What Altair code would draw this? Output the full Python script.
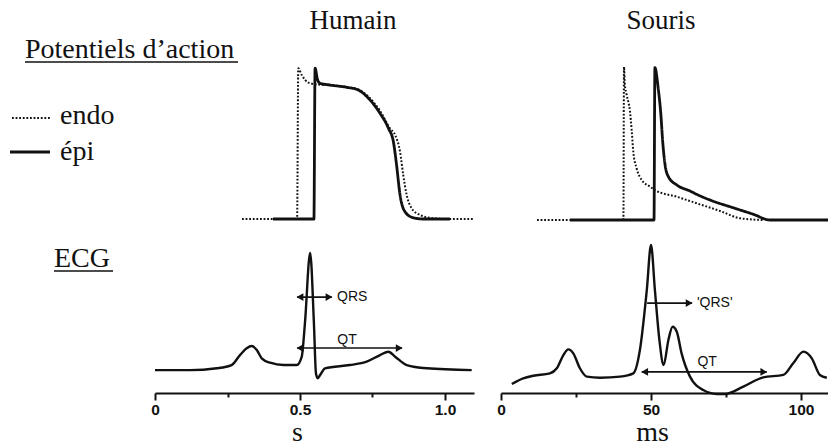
import altair as alt
import pandas as pd

# --- Potentiels d'action, humain (temps en s, potentiel en mV) ---
h_endo_t = [0.30, 0.490, 0.494, 0.506, 0.529, 0.560, 0.603, 0.661, 0.701, 0.736,
            0.776, 0.810, 0.828, 0.845, 0.856, 0.868, 0.885, 0.914, 0.948, 1.006, 1.097]
h_endo_v = [-85, -85, 39, 33.4, 27.1, 25.6, 25.0, 23.5, 21.5, 15.5,
            4.0, -10.4, -15.9, -29.7, -48.8, -65.3, -76.2, -81.7, -84, -85, -85]
h_epi_t = [0.407, 0.548, 0.552, 0.560, 0.569, 0.603, 0.661, 0.701, 0.736, 0.776,
           0.805, 0.822, 0.833, 0.845, 0.862, 0.891, 0.925, 1.017]
h_epi_v = [-85, -85, 39, 30, 26.6, 25.2, 23.3, 21.1, 14.3, 1.9,
           -10.4, -21.4, -40.6, -65.3, -79, -84, -85, -85]

# --- Potentiels d'action, souris (temps en ms, potentiel en mV) ---
m_endo_t = [12, 40.8, 41.0, 41.3, 41.9, 43.0, 43.6, 44.1, 45.2, 46.9, 49.7,
            51.3, 58.6, 66.3, 73.0, 79.7, 87.4]
m_endo_v = [-85, -85, 40.2, 25.3, 17.1, 3.5, -12.9, -29.2, -42.8, -52.3, -57.8,
            -60.5, -66, -72.2, -77.6, -83.6, -85]
m_epi_t = [23, 51.0, 51.3, 52.4, 53.3, 53.9, 54.7, 55.8, 58.6, 63.0, 65.2,
           69.7, 77.4, 84.1, 89.7, 109]
m_epi_v = [-85, -85, 39.4, 22.6, 0.8, -21, -40.1, -49.6, -56.4, -61.3, -64,
           -68.7, -75, -80.3, -85, -85]

# --- ECG humain (s, amplitude relative à l'onde R) ---
h_ecg_t = [0.0, 0.121, 0.213, 0.264, 0.293, 0.316, 0.333, 0.351, 0.368, 0.397,
           0.443, 0.489, 0.506, 0.517, 0.535, 0.548, 0.555, 0.561, 0.570, 0.586,
           0.672, 0.730, 0.776, 0.805, 0.828, 0.868, 0.937, 1.092]
h_ecg_v = [-0.01, -0.01, 0.006, 0.034, 0.12, 0.178, 0.198, 0.164, 0.092, 0.054,
           0.034, 0.034, 0.106, 0.394, 1.0, 0.394, -0.037, -0.08, -0.05, 0.006,
           0.034, 0.063, 0.12, 0.149, 0.106, 0.034, 0.006, -0.01]

# --- ECG souris (ms, amplitude relative à l'onde R) ---
m_ecg_t = [3.6, 7.4, 10.8, 16.3, 18.6, 20.8, 22.4, 24.1, 26.3, 28.6, 33.0, 39.7,
           44.1, 46.3, 48.6, 50.0, 51.3, 52.8, 54.2, 55.8, 57.2, 58.6, 60.2, 63.0,
           67.4, 71.9, 74.7, 80.8, 87.4, 94.1, 97.4, 100.8, 103.6, 106.3, 108.6]
m_ecg_v = [-0.061, -0.018, 0.002, 0.02, 0.059, 0.16, 0.203, 0.173, 0.059, -0.005,
           -0.013, -0.005, 0.02, 0.198, 0.656, 1.0, 0.656, 0.275, 0.084, 0.275,
           0.376, 0.338, 0.173, -0.005, -0.107, -0.137, -0.137, -0.081, -0.01,
           0.008, 0.097, 0.186, 0.135, 0.008, -0.013]

# --- Annotations QRS / QT ---
h_arrow_name = ["QRS", "QT"]
h_arrow_x0 = [0.49, 0.49]
h_arrow_x1 = [0.61, 0.852]
h_arrow_y = [0.62, 0.181]
h_head_x = [0.50, 0.60, 0.50, 0.842]
h_head_y = [0.62, 0.62, 0.181, 0.181]
h_head_dir = ["g", "d", "g", "d"]
h_label_text = ["QRS", "QT"]
h_label_x = [0.628, 0.662]
h_label_y = [0.62, 0.25]
h_label_align = ["left", "center"]

m_arrow_name = ["'QRS'", "QT"]
m_arrow_x0 = [48.7, 46.9]
m_arrow_x1 = [63.7, 88.6]
m_arrow_y = [0.557, 0.031]
m_head_x = [62.7, 47.9, 87.6]
m_head_y = [0.557, 0.031, 0.031]
m_head_dir = ["d", "g", "d"]
m_label_text = ["'QRS'", "QT"]
m_label_x = [65.3, 68.7]
m_label_y = [0.557, 0.107]
m_label_align = ["left", "center"]

# Légende des couches (endocarde pointillé, épicarde trait plein)
couches = ["endo", "épi"]
couche_dash = [[1.8, 1.8], [1, 0]]
couche_width = [2.0, 2.8]

INK = "#111111"
SERIF = "Liberation Serif"
SANS = "Liberation Sans"

# Each trace gets its own scale; the ranges place the four panels on the page.
def sx_h():
    return alt.Scale(domain=[0, 1.1], range=[155, 474], nice=False, zero=False)

def sx_m():
    return alt.Scale(domain=[0, 109], range=[501, 828], nice=False, zero=False)

def sy(domain, rng):
    return alt.Scale(domain=domain, range=rng, nice=False, zero=False)

def ap_frame(t_endo, v_endo, t_epi, v_epi):
    rows = [{"t": t, "v": v, "couche": "endo"} for t, v in zip(t_endo, v_endo)]
    rows += [{"t": t, "v": v, "couche": "épi"} for t, v in zip(t_epi, v_epi)]
    return pd.DataFrame(rows)

h_ap_df = ap_frame(h_endo_t, h_endo_v, h_epi_t, h_epi_v)
m_ap_df = ap_frame(m_endo_t, m_endo_v, m_epi_t, m_epi_v)
h_ecg_df = pd.DataFrame({"t": h_ecg_t, "v": h_ecg_v})
m_ecg_df = pd.DataFrame({"t": m_ecg_t, "v": m_ecg_v})

dash = alt.StrokeDash(
    "couche:N", scale=alt.Scale(domain=couches, range=couche_dash), legend=None
)
width_by_layer = alt.StrokeWidth(
    "couche:N", scale=alt.Scale(domain=couches, range=couche_width), legend=None
)

def ap_layer(df, xs, ys):
    return alt.Chart(df).mark_line(color=INK, interpolate="monotone").encode(
        x=alt.X("t:Q", scale=xs, axis=None),
        y=alt.Y("v:Q", scale=ys, axis=None),
        strokeDash=dash,
        strokeWidth=width_by_layer,
    )

h_ap = ap_layer(h_ap_df, sx_h(), sy([-85, 40], [219, 67]))
m_ap = ap_layer(m_ap_df, sx_m(), sy([-85, 40], [220, 67]))

def main_axis(values, title, title_x, label_expr):
    return alt.Axis(
        orient="bottom", values=values, title=title, labelExpr=label_expr,
        titleX=title_x, titleY=47, titleBaseline="alphabetic", titleAnchor="start",
        titleAlign="center", titleFont=SERIF, titleFontSize=28,
        titleFontWeight="normal", titleColor=INK,
        labelFont=SANS, labelFontSize=15.5, labelFontWeight="bold", labelColor=INK,
        labelPadding=2, tickSize=7, tickWidth=2, tickColor=INK,
        domainWidth=2, domainColor=INK, grid=False, labelFlush=False,
    )

def minor_axis(values):
    return alt.Axis(
        orient="bottom", values=values, labels=False, title=None, domain=False,
        tickSize=4, tickWidth=2, tickColor=INK, grid=False,
    )

H_Y_ECG = [369, 253]
M_Y_ECG = [376, 245]

h_ecg = alt.Chart(h_ecg_df).mark_line(
    color=INK, strokeWidth=2.4, interpolate="monotone"
).encode(
    x=alt.X("t:Q", scale=sx_h(),
            axis=main_axis([0, 0.5, 1.0], "s", 297,
                           "datum.value == 0 ? '0' : format(datum.value, '.1f')")),
    y=alt.Y("v:Q", scale=sy([0, 1], H_Y_ECG), axis=None),
)
m_ecg = alt.Chart(m_ecg_df).mark_line(
    color=INK, strokeWidth=2.4, interpolate="monotone"
).encode(
    x=alt.X("t:Q", scale=sx_m(),
            axis=main_axis([0, 50, 100], "ms", 652, "format(datum.value, 'd')")),
    y=alt.Y("v:Q", scale=sy([0, 1], M_Y_ECG), axis=None),
)

def arrow_layers(names, x0, x1, y, hx, hy, hdir, lt, lx, ly, la, xs_fn, y_rng, minor):
    rules = alt.Chart(pd.DataFrame({"nom": names, "x0": x0, "x1": x1, "y": y})).mark_rule(
        color=INK, strokeWidth=1.7
    ).encode(
        x=alt.X("x0:Q", scale=xs_fn(), axis=minor_axis(minor)),
        x2="x1:Q",
        y=alt.Y("y:Q", scale=sy([0, 1], y_rng), axis=None),
    )
    heads = alt.Chart(pd.DataFrame({"x": hx, "y": hy, "dir": hdir})).mark_point(
        filled=True, color=INK, opacity=1, size=60
    ).encode(
        x=alt.X("x:Q", scale=xs_fn(), axis=None),
        y=alt.Y("y:Q", scale=sy([0, 1], y_rng), axis=None),
        shape=alt.Shape("dir:N", scale=alt.Scale(domain=["g", "d"],
                        range=["triangle-left", "triangle-right"]), legend=None),
    )
    layers = [rules, heads]
    for text, x, yy, align in zip(lt, lx, ly, la):
        layers.append(
            alt.Chart(pd.DataFrame({"x": [x], "y": [yy], "txt": [text]})).mark_text(
                font=SANS, fontSize=14, color=INK, align=align, baseline="middle"
            ).encode(
                x=alt.X("x:Q", scale=xs_fn(), axis=None),
                y=alt.Y("y:Q", scale=sy([0, 1], y_rng), axis=None),
                text="txt:N",
            )
        )
    return layers

h_ann = arrow_layers(h_arrow_name, h_arrow_x0, h_arrow_x1, h_arrow_y, h_head_x, h_head_y,
                     h_head_dir, h_label_text, h_label_x, h_label_y, h_label_align,
                     sx_h, H_Y_ECG, [0.25, 0.75])
m_ann = arrow_layers(m_arrow_name, m_arrow_x0, m_arrow_x1, m_arrow_y, m_head_x, m_head_y,
                     m_head_dir, m_label_text, m_label_x, m_label_y, m_label_align,
                     sx_m, M_Y_ECG, [25, 75])

def label(text, x, y, align="left", size=28):
    return alt.Chart(pd.DataFrame({"txt": [text]})).mark_text(
        font=SERIF, fontSize=size, color=INK, align=align, baseline="alphabetic"
    ).encode(x=alt.value(x), y=alt.value(y), text="txt:N")

def stroke(x0, x1, y, width=1.5, dash_pattern=None):
    kw = {"color": INK, "strokeWidth": width}
    if dash_pattern is not None:
        kw["strokeDash"] = dash_pattern
    return alt.Chart(pd.DataFrame({"k": [0]})).mark_rule(**kw).encode(
        x=alt.value(x0), x2=alt.value(x1), y=alt.value(y)
    )

headings = [
    label("Humain", 353, 29, align="center", size=27),
    label("Souris", 661, 29, align="center", size=27),
    label("Potentiels d’action", 25, 58),
    stroke(25, 238, 62),
    label("ECG", 54, 267),
    stroke(54, 113, 271),
]

# legend keys drawn next to the labels on the left
legend_keys = [
    stroke(12, 50, 118, width=couche_width[0], dash_pattern=couche_dash[0]),
    label(couches[0], 60, 124),
    stroke(10, 50, 152, width=couche_width[1]),
    label(couches[1], 60, 160),
]

chart = alt.layer(
    h_ap, m_ap, h_ecg, m_ecg, *h_ann, *m_ann, *headings, *legend_keys
).resolve_scale(
    x="independent", y="independent"
).properties(
    width=828, height=393,
    padding={"left": 0, "top": 0, "right": 0, "bottom": 54},
    autosize=alt.AutoSizeParams(type="none"),
    background="white",
).configure_view(stroke=None)

chart.save("out.html", embed_options={"renderer": "svg", "actions": False})
